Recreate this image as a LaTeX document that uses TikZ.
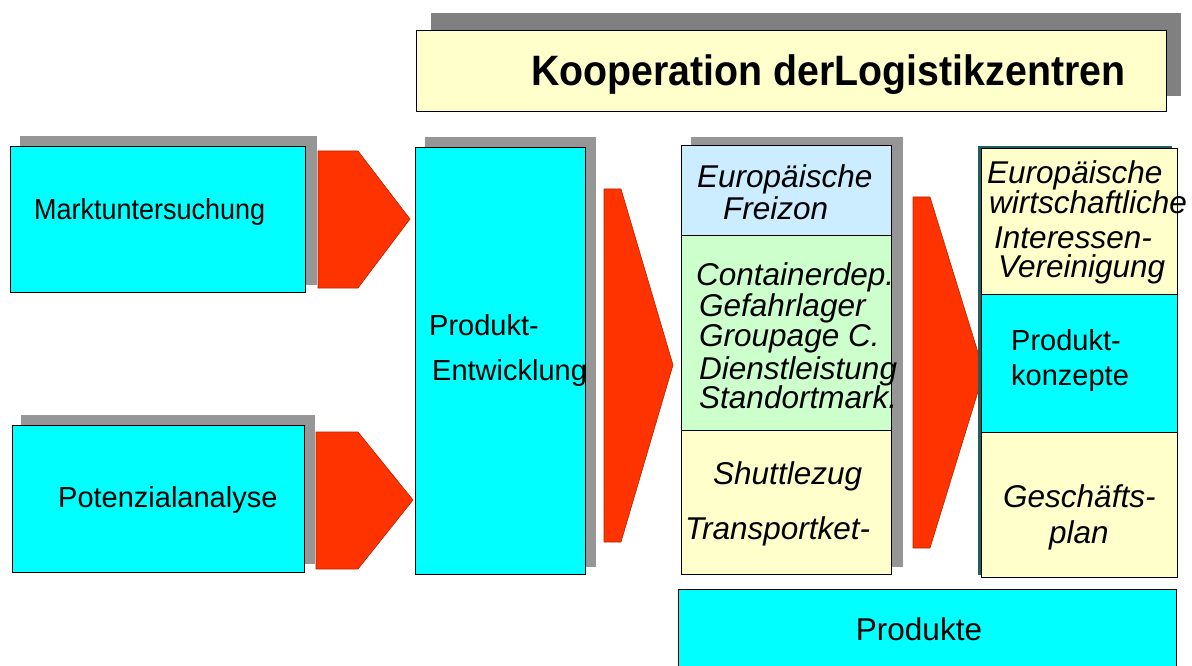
\documentclass[tikz,border=0pt]{standalone}
\usepackage{fontspec}
\setmainfont{Liberation Sans}
\definecolor{cyanbox}{HTML}{00FFFF}
\definecolor{arrowred}{HTML}{FF3300}
\definecolor{shadowgray}{HTML}{969696}
\definecolor{titlegray}{HTML}{808080}
\definecolor{lightyellow}{HTML}{FFFFCC}
\definecolor{lightblue}{HTML}{CCECFF}
\definecolor{lightgreen}{HTML}{CCFFCC}
\definecolor{darkteal}{HTML}{1F5F5F}
\tikzset{
  sh/.style={fill=shadowgray, draw=none},
  bx/.style={draw=black, line width=1pt},
  arr/.style={fill=arrowred, draw=arrowred!70!black, line width=0.6pt, line join=miter},
  txt/.style={inner sep=0pt, anchor=base west, font=\fontsize{29}{31}\selectfont},
  itx/.style={inner sep=0pt, anchor=base west, font=\fontsize{31.5}{33}\selectfont\itshape},
}
\begin{document}
\begin{tikzpicture}[x=1pt,y=-1pt]
\useasboundingbox (0,0) rectangle (1192,666);
\clip (0,0) rectangle (1192,666);
% title
\fill[titlegray] (431,13) rectangle (1181,96);
\node[bx, fill=lightyellow, minimum width=750pt, minimum height=81pt, anchor=north west, inner sep=0pt] (titlebox) at (416,30) {};
\node[inner sep=0pt, anchor=base west, font=\fontsize{42.5}{44}\selectfont\bfseries] (titletext) at (531,86) {\scalebox{0.925}[1]{Kooperation derLogistikzentren}};
% Marktuntersuchung
\fill[sh] (20,136) rectangle (317,285);
\node[bx, fill=cyanbox, minimum width=295pt, minimum height=146pt, anchor=north west, inner sep=0pt] (markt) at (10,146) {};
\node[txt] (markttext) at (34,219) {\scalebox{0.93}[1]{Marktuntersuchung}};
% Potenzialanalyse
\fill[sh] (21,415) rectangle (315,564);
\node[bx, fill=cyanbox, minimum width=292pt, minimum height=147pt, anchor=north west, inner sep=0pt] (potenz) at (12,425) {};
\node[txt] (potenztext) at (58,507) {Potenzialanalyse};
% arrows left
\draw[arr] (318,151) -- (358,151) -- (410,219) -- (358,288) -- (318,288) -- cycle;
\draw[arr] (316,432) -- (358,432) -- (413,500) -- (358,569) -- (316,569) -- cycle;
% Produkt-Entwicklung
\fill[sh] (425,137) rectangle (596,567);
\node[bx, fill=cyanbox, minimum width=170pt, minimum height=427pt, anchor=north west, inner sep=0pt] (entw) at (415,147) {};
\node[txt] (entw1) at (429,335) {Produkt-};
\node[txt] (entw2) at (432,380) {Entwicklung};
% arrow 3
\draw[arr] (604,189) -- (621,189) -- (673,365) -- (621,542) -- (604,542) -- cycle;
% middle column
\fill[sh] (691,137) rectangle (903,567);
\node[bx, fill=lightblue, minimum width=210pt, minimum height=90pt, anchor=north west, inner sep=0pt] (freizone) at (681,145) {};
\node[bx, fill=lightgreen, minimum width=210pt, minimum height=195pt, anchor=north west, inner sep=0pt] (dienste) at (681,235) {};
\node[bx, fill=lightyellow, minimum width=210pt, minimum height=144pt, anchor=north west, inner sep=0pt] (shuttle) at (681,430) {};
\node[itx] (m1) at (697,188) {Europäische};
\node[itx] (m2) at (723,219) {Freizon};
\node[itx] (m3) at (696,285) {Containerdep.};
\node[itx] (m4) at (699,316) {Gefahrlager};
\node[itx] (m5) at (699,346) {Groupage C.};
\node[itx] (m6) at (699,379) {Dienstleistung};
\node[itx] (m7) at (699,408) {Standortmark.};
\node[itx] (m8) at (713,484) {Shuttlezug};
\node[itx] (m9) at (685,539) {Transportket-};
% arrow 4
\draw[arr] (913,197) -- (930,197) -- (984,372) -- (930,548) -- (913,548) -- cycle;
% right column
\fill[darkteal] (978,146) rectangle (1172,575);
\node[bx, fill=lightyellow, minimum width=196pt, minimum height=146pt, anchor=north west, inner sep=0pt] (ewiv) at (981,148) {};
\node[bx, fill=cyanbox, minimum width=196pt, minimum height=138pt, anchor=north west, inner sep=0pt] (konz) at (981,294) {};
\node[bx, fill=lightyellow, minimum width=196pt, minimum height=145pt, anchor=north west, inner sep=0pt] (gplan) at (981,432) {};
\node[itx] (r1) at (987,183) {Europäische};
\node[itx] (r2) at (989,213) {wirtschaftliche};
\node[itx] (r3) at (994,248) {Interessen-};
\node[itx] (r4) at (998,277) {Vereinigung};
\node[txt] (r5) at (1011,350) {Produkt-};
\node[txt] (r6) at (1011,385) {konzepte};
\node[itx] (r7) at (1003,507) {Geschäfts-};
\node[itx] (r8) at (1049,543) {plan};
% Produkte
\node[bx, fill=cyanbox, minimum width=498pt, minimum height=100pt, anchor=north west, inner sep=0pt] (produkte) at (678,589) {};
\node[inner sep=0pt, anchor=base, font=\fontsize{31.5}{33}\selectfont] (produktetext) at (919,640) {Produkte};
\end{tikzpicture}
\end{document}
